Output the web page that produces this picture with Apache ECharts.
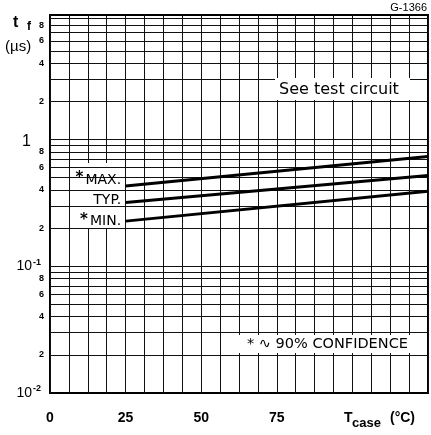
<!DOCTYPE html>
<html><head><meta charset="utf-8">
<script src="https://cdn.jsdelivr.net/npm/echarts@6/dist/echarts.min.js"></script>
<style>html,body{margin:0;padding:0;background:#fff}#c{width:431px;height:435px}</style>
</head><body><div id="c"></div><script>
// ---- data ----
const tempX = [25, 125];              // T_case (°C)
const tfMax = [0.43, 0.735];          // *MAX. t_f (µs)
const tfTyp = [0.318, 0.521];         // TYP.
const tfMin = [0.227, 0.39];          // *MIN.
const seriesNames = ['*MAX.', 'TYP.', '*MIN.'];
const xTickLabels = [0, 25, 50, 75];
const yDecades = [0.01, 0.1, 1];
const yMultipliers = [1, 2, 3, 4, 5, 6, 7, 8, 9];
const yMinorLabelDigits = [2, 4, 6, 8];

const FONT = '"Liberation Sans", Arial, sans-serif';
const FONT2 = '"DejaVu Sans", sans-serif';

// horizontal log grid lines (1..9 per decade)
const gridLines = [];
yDecades.forEach(d => {
  yMultipliers.forEach(m => {
    const v = +(d * m).toPrecision(3);
    if (v <= 0.01) return;
    gridLines.push({
      yAxis: v,
      label: yMinorLabelDigits.includes(m)
        ? { show: true, position: 'start', formatter: String(m), distance: 6,
            fontSize: 9, fontWeight: 'bold', color: '#000', fontFamily: FONT }
        : { show: false }
    });
  });
});

function pts(vals) { return tempX.map((x, i) => [x, vals[i]]); }

function lineSeries(name, vals, labelOffset) {
  const data = pts(vals);
  const star = name.startsWith('*');
  data[0] = {
    value: data[0],
    label: {
      show: true, position: 'left', distance: 4, offset: labelOffset,
      formatter: (star ? '{a|*}' : '') + '{b|' + name.replace('*', '') + '}',
      rich: {
        a: { fontSize: 15, fontFamily: FONT2, color: '#000', padding: [0, 2, 3, 0], fontWeight: 'bold' },
        b: { fontSize: 14, fontFamily: FONT2, color: '#000' }
      }
    }
  };
  return {
    type: 'line', name, data,
    symbol: 'circle', symbolSize: 1, showSymbol: true,
    lineStyle: { color: '#000', width: 3 },
    itemStyle: { color: '#000' },
    animation: false, silent: true, z: 5
  };
}

const chart = echarts.init(document.getElementById('c'), null, { renderer: 'canvas' });
chart.setOption({
  animation: false,
  backgroundColor: '#fff',
  grid: { left: 50, top: 15, width: 378, height: 378, show: true,
          borderColor: '#000', borderWidth: 2, backgroundColor: 'transparent' },
  xAxis: {
    type: 'value', min: 0, max: 125, interval: 6.25,
    axisLine: { show: false }, axisTick: { show: false },
    splitLine: { show: true, lineStyle: { color: '#111', width: 1 } },
    axisLabel: {
      interval: 0, margin: 18, fontSize: 14, fontWeight: 'bold', color: '#000', fontFamily: FONT,
      formatter: v => xTickLabels.includes(v) ? String(v) : ''
    }
  },
  yAxis: {
    type: 'log', logBase: 10, min: 0.01, max: 9.6,
    axisLine: { show: false }, axisTick: { show: false }, splitLine: { show: false },
    axisLabel: {
      margin: 9, color: '#000', fontFamily: FONT,
      formatter: v => {
        if (Math.abs(v - 1) < 1e-6) return '{one|1}';
        if (Math.abs(v - 0.1) < 1e-7) return '{n|10}{e|-1}';
        if (Math.abs(v - 0.01) < 1e-8) return '{n|10}{e|-2}';
        return '';
      },
      rich: {
        one: { fontSize: 16, fontFamily: FONT, color: '#000', padding: [4, 10, 0, 0] },
        n: { fontSize: 14, fontFamily: FONT, color: '#000' },
        e: { fontSize: 9, fontFamily: FONT, color: '#000', fontWeight: 'bold', padding: [0, 0, 8, 1] }
      }
    }
  },
  series: [
    {
      type: 'line', data: [], z: 1, silent: true, animation: false,
      markLine: {
        silent: true, symbol: ['none', 'none'], animation: false,
        lineStyle: { color: '#111', width: 1, type: 'solid' },
        label: { show: false },
        data: gridLines
      }
    },
    lineSeries(seriesNames[0], tfMax, [0, -6]),
    lineSeries(seriesNames[1], tfTyp, [0, -2]),
    lineSeries(seriesNames[2], tfMin, [0, 0])
  ],
  graphic: [
    { type: 'rect', z: 3, shape: { x: 73, y: 163, width: 50, height: 65 }, style: { fill: '#fff' } },
    { type: 'text', z: 100, style: { text: 'G-1366', x: 427, y: 8, align: 'right', verticalAlign: 'middle',
      font: '11px ' + FONT, fill: '#000' } },
    { type: 'text', z: 100, style: { text: 't', x: 13, y: 23, verticalAlign: 'middle', font: 'bold 16px ' + FONT, fill: '#000' } },
    { type: 'text', z: 100, style: { text: 'f', x: 27, y: 27, verticalAlign: 'middle', font: 'bold 12px ' + FONT, fill: '#000' } },
    { type: 'text', z: 100, style: { text: '(µs)', x: 5, y: 47, verticalAlign: 'middle', font: '15px ' + FONT, fill: '#000' } },
    { type: 'rect', z: 99, shape: { x: 275, y: 78, width: 135, height: 22 }, style: { fill: '#fff' } },
    { type: 'text', z: 100, style: { text: 'See test circuit', x: 279, y: 90, verticalAlign: 'middle',
      font: '16px ' + FONT2, fill: '#000' } },
    { type: 'rect', z: 99, shape: { x: 238, y: 335, width: 182, height: 18 }, style: { fill: '#fff' } },
    { type: 'text', z: 100, style: { text: '* ∿ 90% CONFIDENCE', x: 247, y: 344, verticalAlign: 'middle',
      font: '14.5px ' + FONT2, fill: '#000' } },
    { type: 'text', z: 100, style: { text: 'T', x: 344, y: 418, verticalAlign: 'middle', font: 'bold 14px ' + FONT, fill: '#000' } },
    { type: 'text', z: 100, style: { text: 'case', x: 352, y: 423, verticalAlign: 'middle', font: 'bold 13px ' + FONT, fill: '#000' } },
    { type: 'text', z: 100, style: { text: '(°C)', x: 390, y: 418, verticalAlign: 'middle', font: 'bold 14px ' + FONT, fill: '#000' } }
  ]
});
</script></body></html>
